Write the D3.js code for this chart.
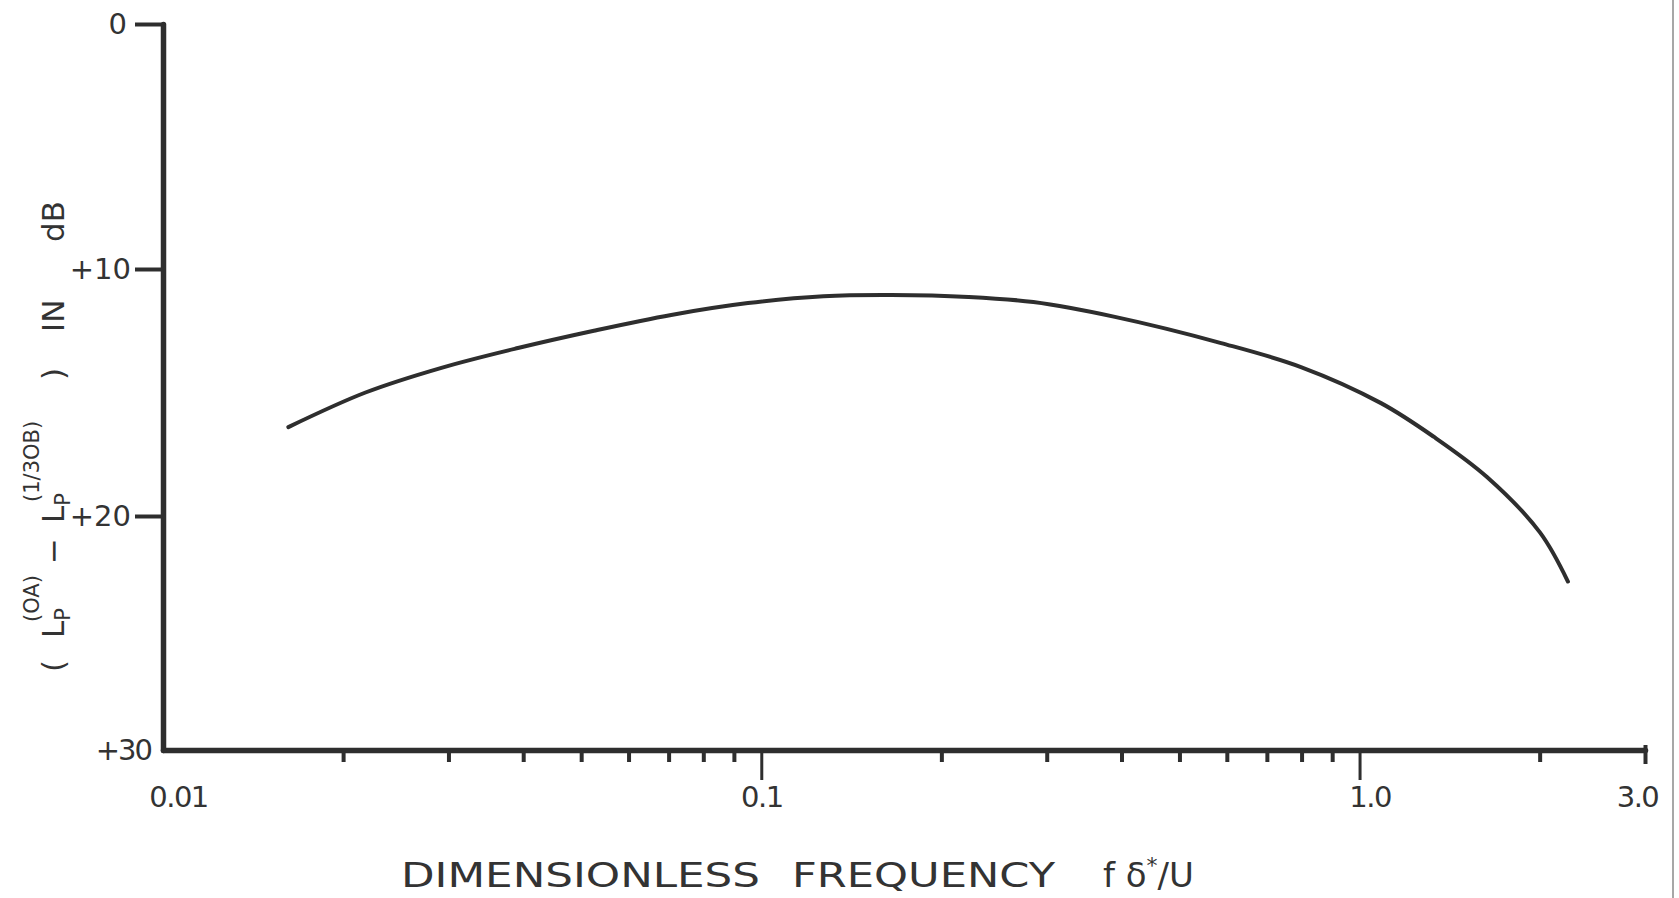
<!DOCTYPE html>
<html>
<head>
<meta charset="utf-8">
<script src="https://cdn.jsdelivr.net/npm/d3@7"></script>
<style>
  html, body { margin: 0; padding: 0; background: #ffffff; }
  svg { display: block; }
  text { font-family: "DejaVu Sans", sans-serif; fill: #333; }
</style>
</head>
<body>
<svg id="chart" width="1679" height="898"></svg>
<script>
// ---- data ----
const freq  = [0.0162, 0.0218, 0.0292, 0.0392, 0.0525, 0.0707, 0.095, 0.127, 0.165, 0.222, 0.285, 0.390, 0.587, 0.798, 1.086, 1.332, 1.633, 2.002, 2.230];
const level = [16.4,   15.0,   14.0,   13.2,   12.5,   11.86,  11.38, 11.1,  11.05, 11.13, 11.34, 11.94, 13.0,  13.97, 15.43, 16.8,  18.42, 20.7,  22.8];

const xMinorTicks = [0.02,0.03,0.04,0.05,0.06,0.07,0.08,0.09,0.2,0.3,0.4,0.5,0.6,0.7,0.8,0.9,2];
const xMajorTicks = [0.1, 1];
const xEndTick    = [3];
const xLabelTicks = [0.01, 0.1, 1, 3];
const xLabels     = ["0.01", "0.1", "1.0", "3.0"];
const yTicks      = [0, 10, 20, 30];
const yLabels     = ["0", "+10", "+20", "+30"];

const ink = "#2e2e2e";
const svg = d3.select("#chart");
svg.append("rect").attr("width", 1679).attr("height", 898).attr("fill", "#fff");

// hand-drawn axis: slightly uneven spacing -> piecewise linear scale
const x = d3.scaleLog().domain([0.01, 3]).range([163, 1645]);
const y = d3.scaleLinear().domain([0, 10, 20, 30]).range([24, 269, 516, 750]);

// ---- x axis ----
const gx = svg.append("g").attr("transform", `translate(0,${y(30)})`);
gx.append("g").call(d3.axisBottom(x).tickValues(xMinorTicks).tickSize(12).tickSizeOuter(0).tickFormat(""))
  .call(g => g.select(".domain").attr("stroke", ink).attr("stroke-width", 5.5).attr("stroke-linecap", "round"))
  .call(g => g.selectAll(".tick line").attr("stroke", ink).attr("stroke-width", 4));
gx.append("g").call(d3.axisBottom(x).tickValues(xMajorTicks).tickSize(30).tickFormat(""))
  .call(g => g.select(".domain").remove())
  .call(g => g.selectAll(".tick line").attr("stroke", ink).attr("stroke-width", 3));
gx.append("g").call(d3.axisBottom(x).tickValues(xEndTick).tickSize(14).tickFormat(""))
  .call(g => g.select(".domain").remove())
  .call(g => g.selectAll(".tick line").attr("y1", -5).attr("stroke", ink).attr("stroke-width", 4));
gx.append("g").call(d3.axisBottom(x).tickValues(xLabelTicks).tickSize(0).tickPadding(36)
      .tickFormat((d, i) => xLabels[i]))
  .call(g => g.select(".domain").remove())
  .call(g => g.selectAll(".tick text").attr("font-size", 29).attr("fill", "#333")
      .attr("font-family", "DejaVu Sans, sans-serif").attr("letter-spacing", -1.5))
  .call(g => g.selectAll(".tick").filter(d => d === 0.01).select("text").attr("dx", 15))
  .call(g => g.selectAll(".tick").filter(d => d === 1).select("text").attr("dx", 10))
  .call(g => g.selectAll(".tick").filter(d => d === 3).select("text").attr("dx", -8));

// ---- y axis ----
const gy = svg.append("g").attr("transform", `translate(${x(0.01)},0)`);
gy.call(d3.axisLeft(y).tickValues(yTicks).tickSize(28).tickSizeOuter(0).tickPadding(4)
      .tickFormat((d, i) => yLabels[i]))
  .call(g => g.select(".domain").attr("stroke", ink).attr("stroke-width", 5.5).attr("stroke-linecap", "round"))
  .call(g => g.selectAll(".tick line").attr("stroke", ink).attr("stroke-width", 4))
  .call(g => g.selectAll(".tick text").attr("font-size", 29).attr("fill", "#333")
      .attr("font-family", "DejaVu Sans, sans-serif"))
  .call(g => g.selectAll(".tick").filter(d => d === 30).select("line").remove())
  .call(g => g.selectAll(".tick").filter(d => d === 30).select("text").attr("x", -12).attr("letter-spacing", -2))
  .call(g => g.selectAll(".tick").filter(d => d === 0).select("text").attr("x", -36));

// ---- curve ----
const pts = freq.map((f, i) => [f, level[i]]);
svg.append("path")
  .datum(pts)
  .attr("fill", "none")
  .attr("stroke", ink)
  .attr("stroke-width", 4)
  .attr("stroke-linecap", "round")
  .attr("d", d3.line().x(d => x(d[0])).y(d => y(d[1])).curve(d3.curveCatmullRom.alpha(0.5)));

// ---- x title ----
const xt = svg.append("g");
xt.append("text").attr("x", 401).attr("y", 887).attr("font-size", 34)
  .attr("textLength", 359).attr("lengthAdjust", "spacingAndGlyphs").text("DIMENSIONLESS");
xt.append("text").attr("x", 792).attr("y", 887).attr("font-size", 34)
  .attr("textLength", 263).attr("lengthAdjust", "spacingAndGlyphs").text("FREQUENCY");
const ft = xt.append("text").attr("x", 1103).attr("y", 887).attr("font-size", 34);
ft.append("tspan").text("f δ");
ft.append("tspan").attr("font-size", 22).attr("dy", -14).text("*");
ft.append("tspan").attr("dy", 14).text("/U");

// ---- y title (rotated) ----
const yt = svg.append("text").attr("transform", "translate(64,672) rotate(-90)").attr("font-size", 31);
yt.append("tspan").attr("x", 0).text("(");
yt.append("tspan").attr("x", 34).text("L");
yt.append("tspan").attr("font-size", 21).attr("dy", 6).text("P");
yt.append("tspan").attr("x", 50).attr("font-size", 21).attr("dy", -31).text("(OA)");
yt.append("tspan").attr("x", 108).attr("dy", 25).text("−");
yt.append("tspan").attr("x", 149).text("L");
yt.append("tspan").attr("font-size", 21).attr("dy", 6).text("P");
yt.append("tspan").attr("x", 170).attr("font-size", 21).attr("dy", -31).text("(1/3OB)");
yt.append("tspan").attr("x", 292).attr("dy", 25).text(")");
yt.append("tspan").attr("x", 340).text("IN");
yt.append("tspan").attr("x", 430).text("dB");

// scan border on the right
svg.append("line").attr("x1", 1673).attr("x2", 1673).attr("y1", 0).attr("y2", 898)
  .attr("stroke", "#8a8a8a").attr("stroke-width", 1.5);
</script>
</body>
</html>
